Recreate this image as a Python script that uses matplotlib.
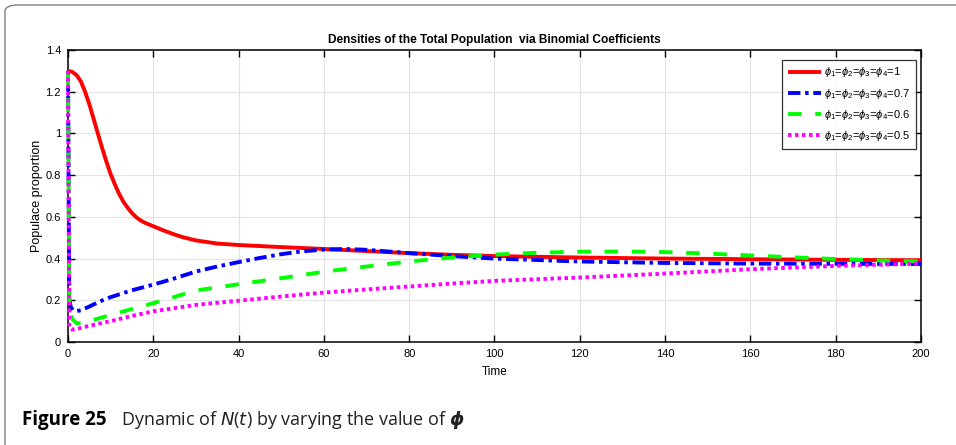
import matplotlib
matplotlib.use("Agg")
import matplotlib.pyplot as plt
from matplotlib.patches import FancyBboxPatch

# time grids and population density for each fractional order
t_red = [0, 1, 2, 3, 4, 5, 6, 7, 8, 9, 10, 11, 12, 13, 14, 15, 16, 17, 18, 20,
         22, 25, 27, 30, 35, 40, 50, 60, 70, 80, 90, 100, 120, 140, 160, 180, 200]
n_red = [1.30, 1.295, 1.28, 1.25, 1.20, 1.14, 1.07, 1.00, 0.93, 0.865, 0.805,
         0.755, 0.71, 0.672, 0.643, 0.618, 0.598, 0.583, 0.572, 0.555, 0.538,
         0.515, 0.502, 0.487, 0.472, 0.465, 0.455, 0.446, 0.436, 0.426, 0.418,
         0.412, 0.405, 0.400, 0.397, 0.394, 0.392]

t_blue = [0, 0.3, 0.7, 1.2, 2, 3, 5, 7.5, 10, 15, 20, 25, 30, 35, 40, 45, 50, 55,
          60, 65, 70, 80, 90, 100, 120, 140, 160, 180, 200]
n_blue = [1.30, 0.20, 0.165, 0.152, 0.148, 0.152, 0.17, 0.195, 0.215, 0.248,
          0.275, 0.305, 0.338, 0.362, 0.383, 0.403, 0.421, 0.435, 0.443, 0.446,
          0.442, 0.426, 0.412, 0.400, 0.386, 0.379, 0.376, 0.375, 0.374]

t_green = [0, 0.3, 1, 2, 3, 5, 10, 15, 20, 30, 40, 50, 60, 70, 80, 90, 100, 110,
           120, 130, 140, 150, 160, 170, 180, 190, 200]
n_green = [1.30, 0.16, 0.11, 0.09, 0.09, 0.10, 0.13, 0.158, 0.186, 0.247, 0.277,
           0.306, 0.337, 0.362, 0.386, 0.405, 0.419, 0.428, 0.433, 0.434, 0.431,
           0.424, 0.415, 0.406, 0.398, 0.391, 0.386]

t_mag = [0, 0.3, 1, 2, 5, 10, 15, 20, 30, 40, 50, 60, 70, 80, 90, 100, 120, 140,
         160, 180, 200]
n_mag = [1.30, 0.07, 0.06, 0.062, 0.078, 0.10, 0.125, 0.147, 0.178, 0.198, 0.218,
         0.237, 0.252, 0.266, 0.280, 0.293, 0.309, 0.328, 0.349, 0.365, 0.376]

labels = [r"$\phi_1$=$\phi_2$=$\phi_3$=$\phi_4$=1",
          r"$\phi_1$=$\phi_2$=$\phi_3$=$\phi_4$=0.7",
          r"$\phi_1$=$\phi_2$=$\phi_3$=$\phi_4$=0.6",
          r"$\phi_1$=$\phi_2$=$\phi_3$=$\phi_4$=0.5"]

plt.rcParams["font.family"] = ["Liberation Sans", "DejaVu Sans"]
plt.rcParams["mathtext.fontset"] = "custom"
plt.rcParams["mathtext.it"] = "Liberation Sans:italic"
plt.rcParams["mathtext.rm"] = "Liberation Sans"

fig = plt.figure(figsize=(9.56, 4.45), dpi=100)

# rounded frame around the figure panel
frame = FancyBboxPatch((5 / 956, -0.05), 1.2, 1.0 - 5 / 445 + 0.05,
                       boxstyle="round,pad=0,rounding_size=0.014",
                       transform=fig.transFigure, fc="none", ec="#7f7f7f",
                       lw=1.0, clip_on=False)
fig.patches.append(frame)

ax = fig.add_axes([68 / 956, 103 / 445, 853 / 956, 292 / 445])
lw = 2.8
style = dict(lw=lw, clip_on=False, zorder=3, solid_capstyle="butt",
             dash_capstyle="butt")
ax.plot(t_red, n_red, color="red", ls="-", label=labels[0], **style)
ax.plot(t_blue, n_blue, color="blue", ls=(0, (3.2, 1.2, 0.9, 1.2)),
        label=labels[1], **style)
ax.plot(t_green, n_green, color="#00ff00", ls=(0, (3.5, 3.5)),
        label=labels[2], **style)
ax.plot(t_mag, n_mag, color="magenta", ls=(0, (0.9, 0.9)),
        label=labels[3], **style)

ax.set_xlim(0, 200)
ax.set_ylim(0, 1.4)
ax.set_xticks(range(0, 201, 20))
ax.set_yticks([0, 0.2, 0.4, 0.6, 0.8, 1, 1.2, 1.4])
ax.set_yticklabels(["0", "0.2", "0.4", "0.6", "0.8", "1", "1.2", "1.4"])
ax.grid(True, color="#e3e3e3", lw=0.8)
ax.set_axisbelow(True)
ax.tick_params(direction="in", top=True, right=True, length=5, width=1,
               labelsize=8, pad=5)
for s in ax.spines.values():
    s.set_linewidth(1.1)
    s.set_zorder(2.5)

ax.set_xlabel("Time", fontsize=8.5, labelpad=5)
ax.set_ylabel("Populace proportion", fontsize=9, labelpad=2)
ax.set_title("Densities of the Total Population  via Binomial Coefficients",
             fontsize=8.6, fontweight="bold", pad=5)

leg = ax.legend(loc="upper right", bbox_to_anchor=(0.9945, 0.966), fontsize=8,
                frameon=True, fancybox=False, edgecolor="black",
                handlelength=3.0, handletextpad=0.3, borderpad=0.5,
                labelspacing=0.65, borderaxespad=0)
leg.get_frame().set_linewidth(0.9)
for h in leg.get_lines():
    h.set_linewidth(2.8)

# figure caption under the panel
fig.text(22 / 956, 1 - 425 / 445, "Figure 25", fontsize=13.5, fontweight="bold",
         family=["Open Sans", "DejaVu Sans"], va="baseline")
fig.text(121 / 956, 1 - 425 / 445,
         r"Dynamic of $\mathit{N}$($\mathit{t}$) by varying the value of $\boldsymbol{\phi}$",
         fontsize=13, family=["Open Sans", "DejaVu Sans"], va="baseline",
         math_fontfamily="dejavusans", color="#222222")

fig.savefig("out.png", dpi=100)
